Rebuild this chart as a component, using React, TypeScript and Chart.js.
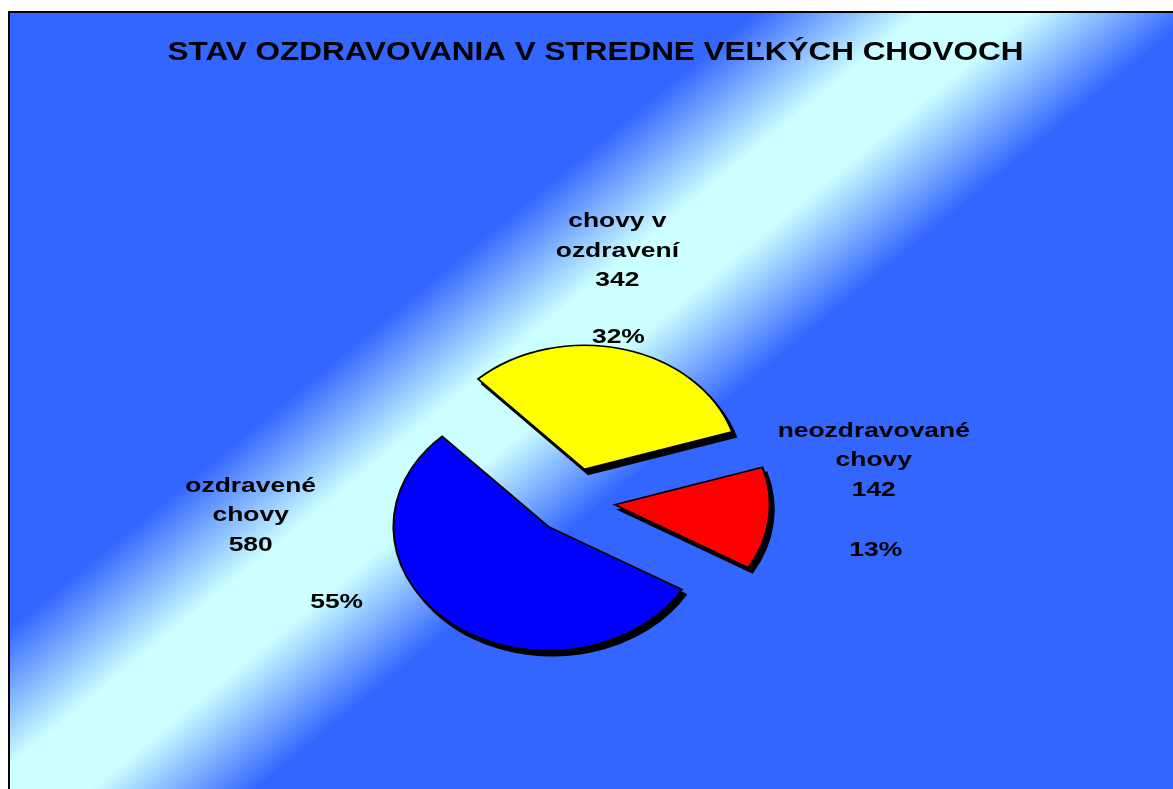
import React, { useEffect, useRef } from 'react';
import { Chart, registerables } from 'chart.js';

Chart.register(...registerables);

// ---------- data ----------
const TITLE = 'STAV OZDRAVOVANIA V STREDNE VEĽKÝCH CHOVOCH';
const CATEGORY_LINES: string[][] = [
  ['ozdravené', 'chovy'],
  ['chovy v', 'ozdravení'],
  ['neozdravované', 'chovy'],
];
const CATEGORIES = CATEGORY_LINES.map((l) => l.join(' '));
const VALUES = [580, 342, 142];
const COLORS = ['#0000FF', '#FFFF00', '#FF0000'];

// ---------- style / layout ----------
const BG_BLUE = '#3366FF';
const BG_LIGHT = '#CCFFFF';
const CANVAS_W = 1171;
const CANVAS_H = 786;
const START_ROTATION = 120.5; // degrees (Chart.js rotation, 0 = 12 o'clock)
const PIE_RADIUS = 155;
const EXPLODE = 41;
const TILT = 0.8;
const SHADOW_X = 4;
const SHADOW_Y = 5;
const LABEL_FONT = 'bold 20px "Liberation Sans", Arial, sans-serif';
const LABEL_STRETCH = 1.32;
const LINE_H = 29.5;
const TITLE_FONT = 'bold 26px "Liberation Sans", Arial, sans-serif';
const TITLE_STRETCH = 1.21;
const TITLE_BASELINE = 47;
// label offsets relative to the slice's outer edge at its mid-angle
const LABEL_LAYOUT = [
  { dx: -201, dy: -132, pdx: -115, pdy: -16 },
  { dx: -6, dy: -122, pdx: -5, pdy: -6 },
  { dx: 105, dy: -82, pdx: 107, pdy: 37 },
];

function tilt(ctx: CanvasRenderingContext2D, cx: number, cy: number) {
  ctx.translate(cx, cy);
  ctx.scale(1, TILT);
  ctx.translate(-cx, -cy);
}

function stretchedText(
  ctx: CanvasRenderingContext2D,
  text: string,
  x: number,
  y: number,
  sx: number
) {
  ctx.save();
  ctx.translate(x, y);
  ctx.scale(sx, 1);
  ctx.fillText(text, 0, 0);
  ctx.restore();
}

const pieStyler = {
  id: 'pieStyler',
  beforeDraw(chart: any) {
    const { ctx, width, height } = chart;
    // diagonal light band
    const bx = 497, by = 387, nx = 0.637, ny = 0.771, half = 140;
    const g = ctx.createLinearGradient(bx - nx * half, by - ny * half, bx + nx * half, by + ny * half);
    g.addColorStop(0, BG_BLUE);
    g.addColorStop(0.375, BG_LIGHT);
    g.addColorStop(0.625, BG_LIGHT);
    g.addColorStop(1, BG_BLUE);
    ctx.save();
    ctx.fillStyle = g;
    ctx.fillRect(0, 0, width, height);
    // title
    ctx.fillStyle = '#000';
    ctx.font = TITLE_FONT;
    ctx.textAlign = 'center';
    ctx.textBaseline = 'alphabetic';
    stretchedText(ctx, TITLE, width / 2, TITLE_BASELINE, TITLE_STRETCH);
    ctx.restore();
  },
  afterDatasetUpdate(chart: any, args: any) {
    args.meta.data.forEach((arc: any) => {
      const mid = (arc.startAngle + arc.endAngle) / 2;
      arc.x += Math.cos(mid) * EXPLODE;
      arc.y += Math.sin(mid) * EXPLODE;
    });
  },
  beforeDatasetsDraw(chart: any) {
    const { ctx, chartArea } = chart;
    const cx = (chartArea.left + chartArea.right) / 2;
    const cy = (chartArea.top + chartArea.bottom) / 2;
    const meta = chart.getDatasetMeta(0);
    // shadow pass
    ctx.save();
    ctx.translate(SHADOW_X, SHADOW_Y);
    tilt(ctx, cx, cy);
    meta.data.forEach((arc: any) => {
      const o = arc.options;
      arc.options = Object.create(o, {
        backgroundColor: { value: '#000000' },
        borderColor: { value: '#000000' },
      });
      arc.draw(ctx);
      arc.options = o;
    });
    ctx.restore();
    ctx.save();
    tilt(ctx, cx, cy);
  },
  afterDatasetsDraw(chart: any) {
    const { ctx, chartArea } = chart;
    ctx.restore();
    const cy = (chartArea.top + chartArea.bottom) / 2;
    const meta = chart.getDatasetMeta(0);
    const total = VALUES.reduce((a, b) => a + b, 0);
    ctx.save();
    ctx.fillStyle = '#000';
    ctx.font = LABEL_FONT;
    ctx.textAlign = 'center';
    ctx.textBaseline = 'alphabetic';
    meta.data.forEach((arc: any, i: number) => {
      const mid = (arc.startAngle + arc.endAngle) / 2;
      const ex = arc.x + Math.cos(mid) * arc.outerRadius;
      const eyRaw = arc.y + Math.sin(mid) * arc.outerRadius;
      const ey = cy + (eyRaw - cy) * TILT;
      const lay = LABEL_LAYOUT[i];
      const lines = [...CATEGORY_LINES[i], String(VALUES[i])];
      lines.forEach((t, k) => {
        stretchedText(ctx, t, ex + lay.dx, ey + lay.dy + k * LINE_H, LABEL_STRETCH);
      });
      const pct = Math.round((VALUES[i] / total) * 100) + '%';
      stretchedText(ctx, pct, ex + lay.pdx, ey + lay.pdy, LABEL_STRETCH);
    });
    ctx.restore();
  },
};

export default function App() {
  const ref = useRef<HTMLCanvasElement | null>(null);
  useEffect(() => {
    if (!ref.current) return;
    const chart = new Chart(ref.current, {
      type: 'pie',
      data: {
        labels: CATEGORIES,
        datasets: [
          {
            data: VALUES,
            backgroundColor: COLORS,
            borderColor: '#000000',
            borderWidth: 2,
            borderJoinStyle: 'miter',
            radius: PIE_RADIUS,
          } as any,
        ],
      },
      options: {
        responsive: false,
        animation: false,
        events: [],
        rotation: START_ROTATION,
        layout: { padding: { left: 0, right: 43, top: 190, bottom: 0 } },
        plugins: {
          legend: { display: false },
          tooltip: { enabled: false },
          title: { display: false },
        },
      } as any,
      plugins: [pieStyler],
    });
    return () => chart.destroy();
  }, []);
  return (
    <div
      style={{
        position: 'fixed',
        left: 8,
        top: 11,
        width: CANVAS_W + 4,
        height: CANVAS_H + 4,
        border: '2px solid #000',
        boxSizing: 'border-box',
      }}
    >
      <canvas ref={ref} width={CANVAS_W} height={CANVAS_H} style={{ display: 'block' }} />
    </div>
  );
}
